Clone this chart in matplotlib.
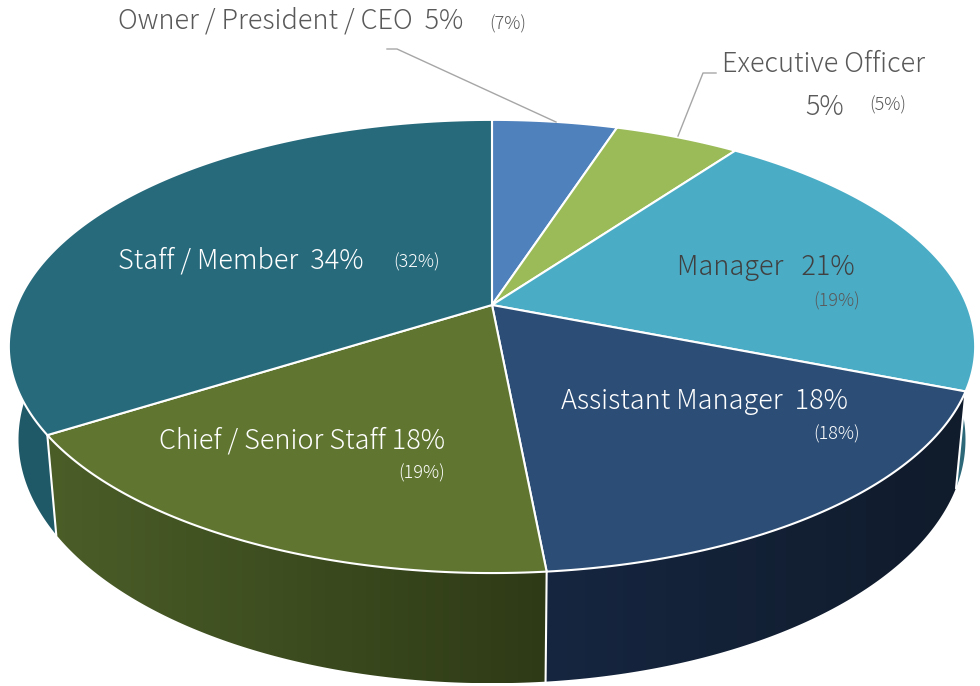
import numpy as np
import matplotlib
matplotlib.use('Agg')
import matplotlib.pyplot as plt
from matplotlib.patches import Polygon
from matplotlib.colors import LinearSegmentedColormap

# slice data (clockwise from 12 o'clock)
categories = ['Owner / President / CEO', 'Executive Officer', 'Manager',
              'Assistant Manager', 'Chief / Senior Staff', 'Staff / Member']
shares = [5, 5, 21, 17.5, 17.5, 34]
shown_pct = ['5%', '5%', '21%', '18%', '18%', '34%']
prev_pct = ['(7%)', '(5%)', '(19%)', '(18%)', '(19%)', '(32%)']

top_colors = ['#4f81bd', '#9bbb59', '#4bacc6', '#2c4d75', '#5f7530', '#276a7c']
side_colors = [('#3b6190', '#2f4d73'), ('#748c43', '#5d7035'), ('#388195', '#2d6777'),
               ('#162640', '#101b2b'), ('#4b5e28', '#2e3a16'), ('#205a69', '#1c5060')]

# pseudo-3D geometry (pixels)
CX, CY = 492, 305
R, KR, P, DEPTH = 475, 219, 0.183, 90
SHRINK = 0.98   # bottom face is a little narrower (perspective)

plt.rcParams['font.family'] = ['Noto Sans CJK JP', 'DejaVu Sans']


def project(theta, drop=0.0):
    u = np.sin(theta)
    v = np.cos(theta)
    s = 1.0 / (1.0 + P * v)
    k = SHRINK if drop else 1.0
    return CX + R * u * s * k, CY - KR * v * s + drop * s


fig = plt.figure(figsize=(9.8, 6.86), dpi=100)
ax = fig.add_axes([0, 0, 1, 1])
ax.set_xlim(0, 980)
ax.set_ylim(686, 0)
ax.axis('off')

bounds = np.concatenate([[0], np.cumsum(shares)]) / np.sum(shares) * 2 * np.pi

# side walls first, far slices before near ones
order = sorted(range(len(shares)),
               key=lambda i: -np.cos((bounds[i] + bounds[i + 1]) / 2))
for i in order:
    t = np.linspace(bounds[i], bounds[i + 1], 200)
    xt, yt = project(t)
    xb, yb = project(t, DEPTH)
    pts = np.column_stack([np.concatenate([xt, xb[::-1]]),
                           np.concatenate([yt, yb[::-1]])])
    poly = Polygon(pts, closed=True, facecolor='none', edgecolor='none')
    ax.add_patch(poly)
    cmap = LinearSegmentedColormap.from_list('side%d' % i, side_colors[i])
    grad = np.linspace(0, 1, 256).reshape(1, -1)
    x0, x1 = pts[:, 0].min(), pts[:, 0].max()
    y0, y1 = pts[:, 1].min(), pts[:, 1].max()
    im = ax.imshow(grad, cmap=cmap, extent=[x0, x1, y1, y0], aspect='auto',
                   interpolation='bilinear', zorder=1)
    im.set_clip_path(poly)

# white seams on the front wall
for b in bounds[:-1]:
    if np.cos(b) < -0.1:
        x0, y0 = project(b)
        x1, y1 = project(b, DEPTH)
        ax.plot([x0, x1], [y0, y1], color='white', lw=1.5, zorder=2)

# top faces
for i in range(len(shares)):
    t = np.linspace(bounds[i], bounds[i + 1], 200)
    xt, yt = project(t)
    pts = np.column_stack([np.concatenate([[CX], xt]), np.concatenate([[CY], yt])])
    ax.add_patch(Polygon(pts, closed=True, facecolor=top_colors[i],
                         edgecolor='white', lw=1.5, zorder=3, joinstyle='round'))

# labels
big, small = 19.5, 13
grey = '#595959'
tk = dict(va='center', zorder=5, fontweight='light')

ax.plot([387, 397, 556], [49, 49, 122], color='#a6a6a6', lw=1, zorder=4)
ax.text(118, 21, categories[0] + '  ' + shown_pct[0], fontsize=big, color=grey, ha='left', **tk)
ax.text(489, 24, prev_pct[0], fontsize=small, color=grey, ha='left', **tk)

ax.plot([678, 703, 716], [136, 73, 73], color='#a6a6a6', lw=1, zorder=4)
ax.text(722, 64, categories[1], fontsize=big, color=grey, ha='left', **tk)
ax.text(825, 107, shown_pct[1], fontsize=big, color=grey, ha='center', **tk)
ax.text(888, 105, prev_pct[1], fontsize=small, color=grey, ha='center', **tk)

ax.text(855, 267, categories[2] + '   ' + shown_pct[2], fontsize=big, color='#404040',
        ha='right', **tk)
ax.text(860, 301, prev_pct[2], fontsize=small, color=grey, ha='right', **tk)

ax.text(848, 401, categories[3] + '  ' + shown_pct[3], fontsize=big, color='white',
        ha='right', **tk)
ax.text(860, 434, prev_pct[3], fontsize=small, color='white', ha='right', **tk)

ax.text(445, 440, categories[4] + ' ' + shown_pct[4], fontsize=big, color='white',
        ha='right', **tk)
ax.text(445, 473, prev_pct[4], fontsize=small, color='white', ha='right', **tk)

ax.text(118, 260, categories[5] + '  ' + shown_pct[5], fontsize=big, color='white',
        ha='left', **tk)
ax.text(393, 262, prev_pct[5], fontsize=small, color='white', ha='left', **tk)

fig.savefig('out.png', dpi=100)
